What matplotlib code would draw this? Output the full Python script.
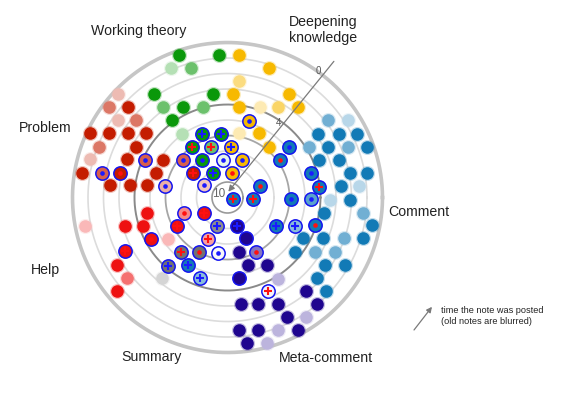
import numpy as np
import matplotlib
matplotlib.use('Agg')
import matplotlib.pyplot as plt
from matplotlib.colors import to_rgb

plt.rcParams['font.family'] = ['Liberation Sans', 'DejaVu Sans']

# each note: (angle in degrees, time since posted, fade, mark)
# mark: '' plain, 'o' outlined, 'bp'/'rp' blue/red plus, 'bd'/'rd' blue/red dot
working = [
	(108.7, 0.30, 1, ''), (93.3, 0.79, 1, ''), (113.7, 0.90, 0.3, ''), (105.9, 1.34, 0.6, ''),
	(125.4, 1.81, 1, ''), (98.1, 3.25, 1, ''), (125.7, 2.83, 0.6, ''), (116.4, 3.50, 1, ''),
	(105.4, 3.97, 0.6, ''), (125.7, 3.84, 1, ''), (125.6, 4.96, 0.3, ''),
	(112.1, 5.58, 1, 'bp'), (96.1, 5.88, 1, 'bp'), (125.2, 5.99, 1, 'rp'), (108.3, 6.55, 0.6, 'rp'),
	(124.7, 7.08, 1, 'bd'), (97.2, 7.53, 0.1, 'bd'), (120.4, 8.19, 1, 'bp'),
]
deepening = [
	(85.4, 0.77, 1, ''), (72.1, 1.24, 1, ''), (84.4, 2.43, 0.5, ''), (87.1, 3.32, 1, ''),
	(59.2, 2.22, 1, ''), (82.7, 4.13, 1, ''), (60.6, 3.32, 0.6, ''), (52.1, 2.63, 1, ''),
	(70.2, 3.81, 0.3, ''), (79.6, 5.79, 0.3, ''), (63.6, 5.38, 1, ''), (50.5, 5.75, 1, ''),
	(73.9, 4.88, 1, 'bd'), (86.1, 6.72, 1, 'bp'), (69.0, 7.44, 1, 'bd'), (79.6, 8.39, 1, 'rd'),
]
comment = [
	(37.4, 1.81, 0.6, ''), (32.6, 0.75, 0.3, ''), (35.2, 2.86, 1, ''), (29.8, 1.71, 1, ''),
	(26.2, 0.69, 1, ''), (32.0, 3.82, 0.6, ''), (26.7, 2.72, 1, ''), (22.8, 1.55, 0.6, ''),
	(20.0, 0.40, 1, ''), (22.2, 3.60, 1, ''), (18.6, 2.40, 1, ''), (11.2, 1.94, 1, ''),
	(9.8, 0.85, 1, ''), (5.6, 2.63, 1, ''), (4.9, 1.50, 0.3, ''), (-1.4, 3.39, 0.3, ''),
	(-1.2, 2.10, 1, ''), (-9.1, 3.70, 1, ''), (-6.5, 1.18, 0.6, ''), (-10.8, 0.53, 1, ''),
	(-28.3, 4.45, 1, ''), (-23.1, 3.28, 1, ''), (-19.3, 2.04, 0.6, ''), (-16.7, 0.85, 1, ''),
	(-38.8, 4.41, 1, ''), (-31.8, 3.36, 0.6, ''), (-26.8, 2.23, 0.6, ''), (-34.7, 2.35, 1, ''),
	(-29.9, 1.26, 1, ''), (-42.2, 2.23, 1, ''), (-43.5, 1.24, 1, ''),
	(39.4, 4.84, 1, 'bd'), (35.3, 5.85, 1, 'rd'), (16.2, 4.41, 1, 'bd'), (6.8, 4.03, 1, 'rp'),
	(-1.6, 5.89, 1, 'bd'), (-1.2, 4.63, 0.7, 'bd'), (-30.0, 6.39, 1, 'bp'), (-22.4, 5.26, 0.5, 'bp'),
	(-17.6, 4.08, 1, 'rd'), (19.5, 7.78, 1, 'rd'), (-19.0, 9.65, 1, 'rp'), (-4.1, 8.37, 1, 'rp'),
	(251.2, 4.49, 0.5, 'bp'), (240.0, 4.94, 1, 'bp'),
]
meta = [
	(-77.7, 6.43, 1, ''), (-72.8, 5.47, 1, ''), (-59.3, 4.97, 1, ''), (-57.9, 3.83, 0.3, ''),
	(-50.0, 2.10, 1, ''), (-82.9, 3.05, 1, ''), (-74.0, 2.82, 1, ''), (-64.6, 2.36, 1, ''),
	(-49.9, 1.01, 1, ''), (-63.6, 1.37, 1, ''), (-56.7, 0.75, 0.3, ''), (-84.9, 1.40, 1, ''),
	(-77.0, 1.21, 1, ''), (-69.1, 0.83, 0.3, ''), (-62.1, 0.30, 1, ''), (-82.2, 0.52, 1, ''),
	(-74.8, 0.27, 0.3, ''),
	(-72.1, 8.07, 1, 'bp'), (-65.6, 7.11, 1, 'o'), (-81.6, 4.78, 1, 'o'), (-62.1, 6.00, 0.55, 'rd'),
	(-66.8, 3.44, 0.05, 'rp'),
]
summary = [
	(230.8, 3.28, 0.3, ''),
	(250.3, 8.05, 0.8, 'bp'), (229.5, 5.35, 1, 'rp'), (242.8, 6.03, 1, 'rd'), (229.0, 4.18, 1, 'bp'),
	(260.5, 6.40, 0.05, 'bd'),
]
help_notes = [
	(190.7, 4.74, 1, ''), (195.5, 3.14, 1, ''), (198.6, 4.23, 1, ''), (191.3, 0.62, 0.3, ''),
	(215.2, 5.32, 0.3, ''), (211.4, 1.63, 1, ''), (218.5, 1.69, 0.6, ''), (220.1, 0.66, 1, ''),
	(207.7, 2.53, 1, 'rp'), (208.6, 4.36, 1, 'rd'), (209.6, 6.23, 1, 'rp'), (199.3, 7.03, 0.5, 'rd'),
	(212.9, 8.19, 1, 'rp'), (245.1, 7.06, 0.4, 'rp'),
]
problem = [
	(136.5, 0.29, 0.3, ''), (142.6, 0.41, 0.6, ''), (137.7, 1.35, 1, ''), (144.6, 1.36, 0.3, ''),
	(139.7, 2.26, 0.6, ''), (155.0, 0.21, 1, ''), (151.5, 1.32, 1, ''), (147.1, 2.38, 1, ''),
	(141.8, 3.31, 1, ''), (158.4, 1.10, 0.6, ''), (151.0, 3.25, 1, ''), (164.5, 0.79, 0.3, ''),
	(159.1, 3.08, 1, ''), (149.9, 5.17, 1, ''), (170.6, 0.46, 1, ''), (161.3, 5.13, 1, ''),
	(173.9, 2.38, 1, ''), (172.7, 3.63, 1, ''), (171.1, 4.76, 1, ''),
	(155.6, 4.15, 0.7, 'bd'), (140.1, 6.23, 0.7, 'bd'), (169.1, 1.74, 0.7, 'bd'), (167.3, 2.89, 1, 'rd'),
	(145.2, 7.26, 1, 'rp'), (169.6, 5.90, 0.35, 'bd'), (152.0, 8.28, 0.25, 'bd'),
]

categories = ['Working theory', 'Deepening\nknowledge', 'Comment', 'Meta-comment', 'Summary', 'Help', 'Problem']
cat_notes = [working, deepening, comment, meta, summary, help_notes, problem]
cat_colors = ['#0a980a', '#f7b900', '#127ab6', '#1f058f', '#727272', '#ee1111', '#c41c00']
time_ticks = ['0', '4', '10']
MAX_TIME = 10

def tint(c, f):
	rgb = np.array(to_rgb(c))
	return tuple(f * rgb + (1 - f))

fig = plt.figure(figsize=(5.61, 3.99), dpi=100)
ax = fig.add_axes([0.1292, 0.1165, 0.5526, 0.7769], projection='polar')
ax.set_ylim(0, MAX_TIME)
ax.set_axis_off()

# rings, one per time step (outer ring = newest)
theta = np.linspace(0, 2 * np.pi, 500)
for k in range(1, MAX_TIME + 1):
	col, lw = '#dcdcdc', 1.2
	if k == 1:
		col, lw = '#9a9a9a', 1.2
	elif k == 4:
		col, lw = '#a6a6a6', 1.3
	elif k == 6:
		col, lw = '#8a8a8a', 1.4
	elif k == MAX_TIME:
		col, lw = '#c6c6c6', 2.6
	ax.plot(theta, np.full_like(theta, k), color=col, lw=lw, zorder=1, clip_on=False)

for notes, color in zip(cat_notes, cat_colors):
	for ang, t, fade, mark in notes:
		th = np.radians(ang)
		r = MAX_TIME - t
		fc = tint(color, fade)
		if mark == '':
			# soft edge so the dots look slightly blurred
			ax.scatter(th, r, s=118, color=fc, alpha=0.25, lw=0, zorder=2, clip_on=False)
			ax.scatter(th, r, s=82, color=fc, lw=0, zorder=3, clip_on=False)
		else:
			ax.scatter(th, r, s=92, facecolor=fc, edgecolor='#1414f0', lw=1.1, zorder=4, clip_on=False)
			if mark == 'o':
				continue
			ic = '#1a1aff' if mark[0] == 'b' else '#ff1010'
			if mark[1] == 'p':
				ax.scatter(th, r, s=30, marker='+', color=ic, lw=1.5, zorder=5, clip_on=False)
			else:
				ax.scatter(th, r, s=11, color=ic, lw=0, zorder=5, clip_on=False)

# time arrow
ax.annotate('', xy=(np.radians(82), 0.38), xytext=(np.radians(52), 11.15),
	arrowprops=dict(arrowstyle='-|>', color='#7a7a7a', lw=0.9, mutation_scale=9, shrinkA=0, shrinkB=0),
	annotation_clip=False, zorder=6)
ax.text(np.radians(54.4), 10.06, time_ticks[0], fontsize=7, color='#555555', ha='center', va='center')
ax.text(np.radians(55.8), 5.83, time_ticks[1], fontsize=7, color='#555555', ha='center', va='center')
ax.text(np.radians(155), 0.6, time_ticks[2], fontsize=8.5, color='#666666', ha='center', va='center', zorder=7)

label_pos = [(0.2478, 0.9223), (0.5758, 0.9248), (0.7469, 0.4687), (0.5811, 0.1028),
	(0.2692, 0.1053), (0.0802, 0.3233), (0.0802, 0.6792)]
for name, (x, y) in zip(categories, label_pos):
	fig.text(x, y, name, fontsize=10.2, color='#222222', ha='center', va='center', linespacing=1.15)

# legend
plt.annotate('', xy=(0.770, 0.231), xytext=(0.738, 0.173), xycoords='figure fraction',
	arrowprops=dict(arrowstyle='-|>', color='#7a7a7a', lw=0.9, mutation_scale=8, shrinkA=0, shrinkB=0))
fig.text(0.786, 0.207, 'time the note was posted\n(old notes are blurred)', fontsize=6.6,
	color='#222222', ha='left', va='center', linespacing=1.3)

fig.savefig('out.png', dpi=100)
